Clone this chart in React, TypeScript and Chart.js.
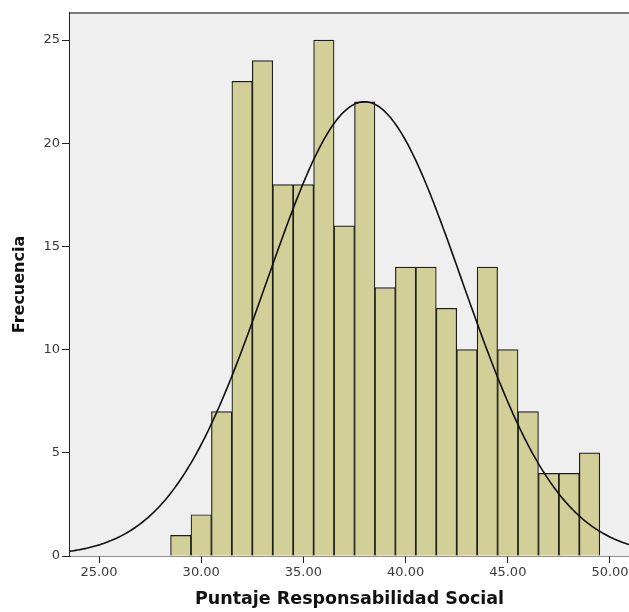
import React, { useEffect, useRef } from "react";
import { Chart, registerables } from "chart.js";

Chart.register(...registerables);

// Histogram data (bin centres, bin width 1)
const BIN_CENTERS = [29, 30, 31, 32, 33, 34, 35, 36, 37, 38, 39, 40, 41, 42, 43, 44, 45, 46, 47, 48, 49];
const FREQUENCIES = [1, 2, 7, 23, 24, 18, 18, 25, 16, 22, 13, 14, 14, 12, 10, 14, 10, 7, 4, 4, 5];

// Normal-curve parameters (SPSS fitted curve)
const MEAN = 37.99;
const SD = 4.767;
const N = 263;
const BIN_WIDTH = 1;

// Axes
const X_TICKS = [25, 30, 35, 40, 45, 50];
const Y_TICKS = [0, 5, 10, 15, 20, 25];
const X_MIN = 23.58;
const X_MAX = 50.93;
const Y_MAX = 26.31;

const X_TITLE = "Puntaje Responsabilidad Social";
const Y_TITLE = "Frecuencia";

const FONT = "'DejaVu Sans', sans-serif";

function normalCurve() {
  const pts: { x: number; y: number }[] = [];
  const steps = 300;
  for (let i = 0; i <= steps; i++) {
    const x = X_MIN + ((X_MAX - X_MIN) * i) / steps;
    const z = (x - MEAN) / SD;
    const y = (N * BIN_WIDTH) / (SD * Math.sqrt(2 * Math.PI)) * Math.exp(-0.5 * z * z);
    pts.push({ x, y });
  }
  return pts;
}

const framePlugin = {
  id: "frame",
  beforeDatasetsDraw(chart: any) {
    const { ctx, chartArea } = chart;
    ctx.save();
    ctx.fillStyle = "#efefef";
    ctx.fillRect(chartArea.left, chartArea.top, chartArea.right - chartArea.left, chartArea.bottom - chartArea.top);
    ctx.restore();
  },
  afterDraw(chart: any) {
    const { ctx, chartArea } = chart;
    ctx.save();
    ctx.strokeStyle = "#7a7a7a";
    ctx.lineWidth = 2;
    ctx.beginPath();
    ctx.moveTo(chartArea.left, chartArea.top);
    ctx.lineTo(chartArea.right, chartArea.top);
    ctx.stroke();
    ctx.restore();
  },
};

export default function App() {
  const ref = useRef<HTMLCanvasElement | null>(null);

  useEffect(() => {
    if (!ref.current) return;
    const chart = new Chart(ref.current, {
      type: "bar",
      data: {
        datasets: [
          {
            type: "line",
            data: normalCurve(),
            borderColor: "#111",
            borderWidth: 1.6,
            pointRadius: 0,
            tension: 0,
            fill: false,
            order: 0,
          } as any,
          {
            type: "bar",
            data: BIN_CENTERS.map((x, i) => ({ x, y: FREQUENCIES[i] })),
            backgroundColor: "#d3cf99",
            borderColor: "#1e1e18",
            borderWidth: 1.2,
            barPercentage: 1,
            categoryPercentage: 1,
            order: 1,
          } as any,
        ],
      },
      options: {
        animation: false,
        responsive: true,
        maintainAspectRatio: false,
        layout: { padding: { top: 13, left: 0, right: 0, bottom: 0 } },
        plugins: {
          legend: { display: false },
          tooltip: { enabled: false },
        },
        scales: {
          x: {
            type: "linear",
            min: X_MIN,
            max: X_MAX,
            offset: false,
            grid: {
              offset: false,
              drawOnChartArea: false,
              drawTicks: true,
              tickLength: 7,
              color: "#222",
              lineWidth: 1,
            },
            border: { display: true, color: "#222", width: 1.5 },
            ticks: {
              color: "#3a3a3a",
              font: { family: FONT, size: 13 },
              padding: 2,
              maxRotation: 0,
              autoSkip: false,
              callback: (v: any) => Number(v).toFixed(2),
            },
            afterBuildTicks: (s: any) => {
              s.ticks = X_TICKS.map((v) => ({ value: v }));
            },
            afterFit: (s: any) => {
              s.height = 56;
              s.paddingLeft = 0;
              s.paddingRight = 0;
            },
            title: {
              display: true,
              text: X_TITLE,
              color: "#111",
              font: { family: FONT, size: 17.5, weight: "bold" },
              padding: { top: 0, bottom: 2 },
            },
          },
          y: {
            type: "linear",
            min: 0,
            max: Y_MAX,
            grid: {
              drawOnChartArea: false,
              drawTicks: true,
              tickLength: 8,
              color: "#222",
              lineWidth: 1,
            },
            border: { display: true, color: "#222", width: 1.8 },
            ticks: {
              color: "#3a3a3a",
              font: { family: FONT, size: 13 },
              padding: 2,
              autoSkip: false,
              callback: (v: any) => String(v),
            },
            afterBuildTicks: (s: any) => {
              s.ticks = Y_TICKS.map((v) => ({ value: v }));
            },
            afterFit: (s: any) => {
              s.width = 70;
              s.paddingTop = 0;
              s.paddingBottom = 0;
            },
            title: {
              display: true,
              text: Y_TITLE,
              color: "#111",
              font: { family: FONT, size: 16, weight: "bold" },
              padding: { top: 10, bottom: 0 },
            },
          },
        },
      },
      plugins: [framePlugin],
    });
    return () => chart.destroy();
  }, []);

  return (
    <div style={{ position: "absolute", left: 0, top: 0, width: 629, height: 612, background: "#fff" }}>
      <canvas ref={ref} />
    </div>
  );
}
